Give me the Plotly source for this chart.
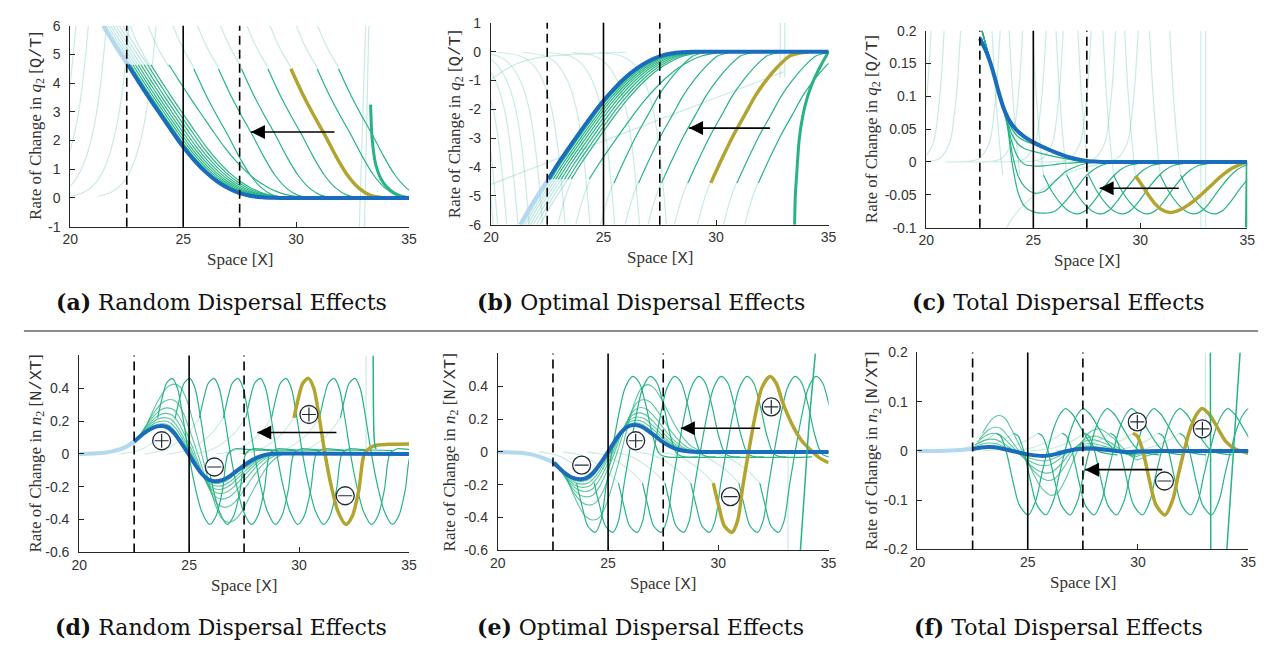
import plotly.graph_objects as go

# ------------------------------------------------------------------ data
SHIFTS = [23.57, 24.37, 25.47, 26.56, 27.58, 28.75, 30.93, 31.88]   # start of each green wave
OLIVE_SHIFT = 29.77
BLUE_SHAPE_LIMIT = 25.0          # waves starting before this follow the blue profile (a, b)
V_SOLID = [25.0]
V_DASH = [22.5, 27.5]

# (a) random dispersal, q2
a_blue_x = [22.55, 23.0, 23.5, 24.0, 24.5, 25.0, 25.5, 26.0, 26.5, 27.0, 27.5, 28.0, 28.5, 29.0, 29.5, 35.0]
a_blue_y = [4.64, 4.08, 3.48, 2.90, 2.33, 1.78, 1.30, 0.90, 0.58, 0.34, 0.17, 0.07, 0.025, 0.006, 0.0, 0.0]
a_lblue_x = [21.45, 22.0, 22.55]
a_lblue_y = [6.0, 5.3, 4.64]
a_cluster_dx = [0.12, 0.22, 0.33, 0.45, 0.58, 0.72, 0.87]
a_wave_s = [0, 0.5, 1.0, 1.5, 2.0, 2.5, 3.0, 3.5, 4.0, 4.5]
a_wave_y = [4.5, 3.65, 2.9, 2.2, 1.45, 0.8, 0.35, 0.1, 0.02, 0.0]
a_ext_s = [-0.95, -0.6, -0.3, 0.0]
a_ext_y = [6.05, 5.4, 4.95, 4.55]
a_rise_s = [-2.6, -2.0, -1.5, -1.0, -0.6, -0.3, 0.0]
a_rise_y = [0.05, 0.2, 0.5, 1.2, 2.3, 3.7, 6.0]
a_rise_x0 = [20.25, 20.8, 21.6, 22.6, 23.8]
a_edge_x = [33.30, 33.33, 33.37, 33.45, 33.55, 33.75, 34.0, 34.35, 34.7, 35.0]
a_edge_y = [3.25, 2.6, 2.05, 1.5, 1.1, 0.68, 0.4, 0.17, 0.05, 0.0]
a_vfaint_x = [[33.08, 32.80], [33.22, 33.03]]
a_vfaint_y = [6.0, -1.0]

# (b) optimal dispersal, q2
b_blue_x = [22.55, 23.0, 23.5, 24.0, 24.5, 25.0, 25.5, 26.0, 26.5, 27.0, 27.5, 28.0, 28.5, 29.0, 29.5, 35.0]
b_blue_y = [-4.42, -3.86, -3.29, -2.74, -2.20, -1.70, -1.26, -0.88, -0.57, -0.33, -0.16, -0.065, -0.022, -0.005, 0.0, 0.0]
b_lblue_x = [21.3, 21.9, 22.55]
b_lblue_y = [-6.0, -5.2, -4.42]
b_cluster_dx = [0.12, 0.22, 0.33, 0.45, 0.58, 0.72, 0.87]
b_wave_s = [0, 0.5, 1.0, 1.5, 2.0, 2.5, 3.0, 3.5, 3.95, 4.3]
b_wave_y = [-4.55, -3.7, -2.9, -2.2, -1.5, -0.95, -0.5, -0.15, -0.045, 0.0]
b_ext_s = [-0.6, -0.4, -0.2, 0.0]
b_ext_y = [-6.0, -5.4, -4.9, -4.5]
b_fall_s = [-3.0, -2.0, -1.5, -1.0, -0.6, -0.3, 0.0]
b_fall_y = [-0.02, -0.15, -0.4, -1.0, -2.0, -3.5, -6.0]
b_fall_x0 = [20.1, 20.3, 20.7, 21.2, 21.7, 22.3, 23.3, 24.4, 25.5, 26.6, 27.8]
b_long1_x = [20.0, 22.0, 24.0, 26.0, 28.0, 30.0, 32.0, 33.0]
b_long1_y = [-4.6, -4.0, -3.4, -2.8, -2.2, -1.6, -1.0, -0.7]
b_long2_x = [20.0, 20.5, 21.0, 21.5, 22.3, 23.2, 24.5, 26.0]
b_long2_y = [-0.98, -0.7, -0.47, -0.32, -0.19, -0.12, -0.06, -0.02]
b_edge_x = [33.49, 33.52, 33.57, 33.7, 33.86, 34.05, 34.3, 34.66, 35.0]
b_edge_y = [-6.0, -5.0, -4.4, -3.0, -2.2, -1.6, -1.05, -0.47, 0.0]
b_vfaint_x = [[32.85, 32.85], [33.05, 33.05]]
b_vfaint_y = [1.0, -0.9]

# (c) total dispersal, q2
c_blue_x = [22.5, 22.8, 23.0, 23.2, 23.4, 23.6, 23.8, 24.0, 24.3, 24.6, 25.0, 25.5, 26.0, 26.5, 27.0, 27.5, 28.0, 28.5, 35.0]
c_blue_y = [0.188, 0.168, 0.150, 0.128, 0.104, 0.083, 0.068, 0.057, 0.046, 0.038, 0.030, 0.022, 0.015, 0.009, 0.0045, 0.0015, 0.0005, 0.0, 0.0]
c_cl_x = [22.6, 23.0, 23.4, 23.8, 24.0, 24.3, 24.6, 25.0, 25.5, 26.0, 26.5, 27.0, 27.5, 28.0, 28.5, 29.0]
c_cl_y = [
    [0.2, 0.152, 0.106, 0.07, 0.058, 0.047, 0.04, 0.032, 0.024, 0.016, 0.01, 0.005, 0.002, 0.0005, 0.0, 0.0],
    [0.2, 0.152, 0.106, 0.066, 0.05, 0.038, 0.032, 0.027, 0.02, 0.014, 0.008, 0.004, 0.001, 0.0, 0.0, 0.0],
    [0.2, 0.152, 0.106, 0.062, 0.042, 0.027, 0.02, 0.016, 0.012, 0.008, 0.005, 0.002, 0.0, 0.0, 0.0, 0.0],
    [0.2, 0.152, 0.106, 0.058, 0.03, 0.006, -0.004, -0.006, -0.006, -0.004, -0.002, -0.001, 0.0, 0.0, 0.0, 0.0],
    [0.2, 0.152, 0.106, 0.055, 0.015, -0.022, -0.038, -0.047, -0.045, -0.03, -0.015, -0.007, -0.002, 0.0, 0.0, 0.0],
    [0.2, 0.152, 0.106, 0.052, 0.0, -0.048, -0.068, -0.076, -0.078, -0.075, -0.06, -0.04, -0.02, -0.008, -0.002, 0.0],
]
c_wave_s = [0, 0.4, 0.8, 1.2, 1.6, 2.0, 2.4, 2.8, 3.2, 3.6, 4.0, 4.5, 5.0]
c_wave_y = [-0.02, -0.045, -0.063, -0.075, -0.079, -0.073, -0.058, -0.04, -0.024, -0.012, -0.005, -0.002, 0.0]
c_olive_s = [0, 0.3, 0.6, 0.9, 1.2, 1.6, 2.0, 2.5, 3.0, 3.5, 4.0, 4.5, 5.23]
c_olive_y = [-0.021, -0.035, -0.05, -0.063, -0.072, -0.077, -0.074, -0.065, -0.052, -0.037, -0.022, -0.01, 0.0]
c_ext_s = [-0.5, -0.35, -0.2, -0.1, 0.0]
c_ext_y = [0.2, 0.11, 0.045, 0.01, -0.02]
c_rise_s = [-2.5, -1.0, -0.5, -0.3, -0.15, 0.0]
c_rise_y = [0.0, 0.005, 0.03, 0.07, 0.12, 0.2]
c_rise_x0 = [20.22, 20.83, 21.6, 23.45, 24.5, 25.6, 26.4, 27.7, 28.85, 29.9]
c_faint_x = [23.75, 24.2, 24.8, 25.5, 26.3, 27.2, 28.0]
c_faint_y = [-0.1, -0.078, -0.058, -0.04, -0.022, -0.01, -0.004]
c_edge_x = [35.0, 34.98, 34.96]
c_edge_y = [0.0, -0.06, -0.1]
c_vfaint_x = [[32.83, 32.83], [33.06, 33.06]]
c_vfaint_y = [0.2, -0.1]

# (d) random dispersal, n2
d_blue_x = [22.5, 22.8, 23.1, 23.4, 23.7, 24.0, 24.3, 24.6, 24.97, 25.3, 25.6, 25.9, 26.2, 26.5, 26.8, 27.1, 27.5, 27.9, 28.3, 28.7, 29.5, 35.0]
d_blue_y = [0.074, 0.11, 0.14, 0.162, 0.17, 0.163, 0.13, 0.075, 0.0, -0.07, -0.125, -0.158, -0.167, -0.16, -0.14, -0.11, -0.07, -0.035, -0.012, 0.0, 0.002, 0.0]
d_lblue_x = [20.0, 21.0, 21.5, 22.0, 22.5]
d_lblue_y = [0.0, 0.005, 0.015, 0.035, 0.074]
d_cluster_dx = [0.05, 0.1, 0.15, 0.22, 0.3, 0.42, 0.6]
d_cluster_k = [1.08, 1.18, 1.3, 1.45, 1.65, 1.95, 2.5]
d_wave_s = [0, 0.2, 0.4, 0.66, 0.9, 1.15, 1.41, 1.7, 2.0, 2.36, 2.65, 2.95, 3.2, 3.5, 3.8, 4.3, 5.5]
d_wave_y = [0.22, 0.34, 0.43, 0.46, 0.4, 0.22, 0.0, -0.2, -0.35, -0.43, -0.38, -0.22, 0.0, 0.03, 0.03, 0.025, 0.02]
d_olive_y = [0.22, 0.34, 0.43, 0.46, 0.4, 0.22, 0.0, -0.2, -0.35, -0.43, -0.38, -0.22, 0.0, 0.04, 0.054, 0.058, 0.06]
d_pre_s = [-2.5, -2.0, -1.5, -1.0, -0.5, 0.0]
d_pre_y = [0.0, 0.01, 0.03, 0.07, 0.13, 0.22]
d_edge_x = [33.37, 33.38, 33.40, 33.44, 33.5]
d_edge_y = [0.6, 0.35, 0.15, 0.06, 0.03]
d_vfaint_x = [[33.05, 33.05]]
d_vfaint_y = [0.6, 0.0]
d_marks_x = [23.75, 26.15, 30.45, 32.1]
d_marks_y = [0.08, -0.08, 0.24, -0.255]
d_marks_sign = ['+', '-', '+', '-']

# (e) optimal dispersal, n2
e_blue_x = [22.54, 22.8, 23.1, 23.4, 23.7, 24.0, 24.3, 24.6, 25.0, 25.3, 25.6, 25.9, 26.2, 26.5, 26.8, 27.1, 27.4, 27.8, 28.2, 28.7, 29.2, 35.0]
e_blue_y = [-0.066, -0.1, -0.135, -0.158, -0.166, -0.16, -0.13, -0.08, 0.0, 0.065, 0.12, 0.155, 0.164, 0.155, 0.13, 0.1, 0.068, 0.035, 0.013, 0.002, 0.0, 0.0]
e_lblue_x = [20.0, 21.0, 21.5, 22.0, 22.54]
e_lblue_y = [0.0, -0.005, -0.015, -0.035, -0.066]
e_cluster_dx = [0.05, 0.1, 0.15, 0.22, 0.3, 0.42, 0.6]
e_cluster_k = [1.08, 1.18, 1.3, 1.45, 1.65, 1.95, 2.5]
e_wave_s = [0, 0.25, 0.5, 0.85, 1.1, 1.35, 1.6, 1.9, 2.2, 2.55, 2.85, 3.15, 3.45, 3.75, 4.1, 5.5]
e_wave_y = [-0.19, -0.33, -0.45, -0.49, -0.42, -0.2, 0.0, 0.22, 0.39, 0.46, 0.42, 0.28, 0.1, -0.01, -0.03, -0.03]
e_olive_s = [0, 0.25, 0.5, 0.85, 1.1, 1.35, 1.6, 1.9, 2.2, 2.57, 2.85, 3.15, 3.6, 4.0, 4.35, 4.8, 5.23]
e_olive_y = [-0.19, -0.33, -0.45, -0.49, -0.42, -0.2, 0.0, 0.22, 0.39, 0.46, 0.42, 0.3, 0.16, 0.07, 0.02, -0.035, -0.066]
e_pre_s = [-2.5, -2.0, -1.5, -1.0, -0.5, 0.0]
e_pre_y = [0.0, -0.01, -0.03, -0.07, -0.12, -0.19]
e_edge_x = [33.72, 33.9, 34.1, 34.4]
e_edge_y = [-0.6, -0.25, 0.15, 0.6]
e_vfaint_x = [[33.16, 33.16]]
e_vfaint_y = [0.0, -0.6]
e_marks_x = [23.8, 26.25, 30.55, 32.4]
e_marks_y = [-0.08, 0.068, -0.272, 0.274]
e_marks_sign = ['-', '+', '-', '+']

# (f) total dispersal, n2
f_blue_x = [22.5, 22.9, 23.2, 23.5, 23.8, 24.2, 24.6, 25.0, 25.3, 25.6, 25.9, 26.3, 26.8, 27.3, 27.8, 28.4, 29.0, 29.5, 30.0, 31.0, 35.0]
f_blue_y = [0.004, 0.007, 0.008, 0.0075, 0.005, 0.001, -0.003, -0.007, -0.009, -0.01, -0.0095, -0.006, 0.0, 0.004, 0.005, 0.003, 0.0, -0.002, -0.001, 0.0, 0.0]
f_lblue_x = [20.0, 21.0, 22.0, 22.5]
f_lblue_y = [0.0, 0.0, 0.002, 0.004]
f_cluster_dx = [0.05, 0.1, 0.2, 0.3, 0.45]
f_cluster_k = [2.0, 3.0, 4.5, 6.0, 9.0]
f_wave_s = [0, 0.2, 0.45, 0.75, 1.05, 1.45, 1.8, 2.05, 2.32, 2.6, 2.9, 3.14, 3.45, 3.8, 4.2, 4.6, 5.5]
f_wave_y = [0.036, 0.03, 0.0, -0.06, -0.11, -0.13, -0.1, -0.05, 0.0, 0.045, 0.075, 0.086, 0.075, 0.05, 0.02, 0.0, -0.008]
f_olive_s = [0, 0.2, 0.45, 0.75, 1.05, 1.45, 1.8, 2.05, 2.32, 2.6, 2.9, 3.14, 3.45, 3.8, 4.2, 4.6, 5.23]
f_olive_y = [0.036, 0.03, 0.0, -0.06, -0.11, -0.13, -0.1, -0.05, 0.0, 0.045, 0.075, 0.086, 0.075, 0.05, 0.02, 0.005, -0.005]
f_pre_s = [-2.5, -1.5, -1.0, -0.5, 0.0]
f_pre_y = [0.0, 0.005, 0.012, 0.022, 0.036]
f_edge_x = [[33.28, 33.30], [34.03, 34.63]]
f_edge_y = [[0.2, -0.2], [-0.2, 0.2]]
f_vfaint_x = [[33.06, 33.06]]
f_vfaint_y = [0.2, -0.03]
f_marks_x = [29.97, 32.92, 31.2]
f_marks_y = [0.059, 0.045, -0.061]
f_marks_sign = ['+', '+', '-']

# arrows: (tail x, head x, y)
arrows = {
    1: (31.7, 28.0, 2.3),
    2: (32.4, 28.8, -2.65),
    3: (31.8, 28.1, -0.04),
    4: (31.7, 28.1, 0.13),
    5: (31.9, 28.3, 0.144),
    6: (31.1, 27.6, -0.038),
}

captions = ["Random Dispersal Effects", "Optimal Dispersal Effects", "Total Dispersal Effects"] * 2
caption_tags = ["(a)", "(b)", "(c)", "(d)", "(e)", "(f)"]

# ------------------------------------------------------------------ style
W, H = 1268, 646
BLUE = "#1a6cbc"
LBLUE = "#b3d8f0"
GREEN = "#27b482"
FAINT = "rgba(39,180,130,0.25)"
OLIVE = "#b2a431"
CLUSTER_EXT = "rgba(140,205,205,0.55)"
TICKFONT = dict(family="Liberation Sans, Arial", size=14, color="#333333")
SERIF = "Liberation Serif, Times New Roman, serif"
MONO = "Liberation Mono"
TITLE_SIZE = 17
CAP_SIZE = 22

# plot boxes in pixels: left, right, top, bottom
boxes = {
    1: (55, 398, 10, 216),
    2: (481, 823, 7, 214),
    3: (922, 1247, 15, 217),
    4: (64, 398, 348, 550),
    5: (488, 823, 346, 548),
    6: (913, 1248, 345, 547),
}
ytitle_px = {1: 21, 2: 445, 3: 868, 4: 21, 5: 440, 6: 868}
yranges = {1: [-1, 6], 2: [-6, 1], 3: [-0.1, 0.2], 4: [-0.6, 0.6], 5: [-0.6, 0.6], 6: [-0.2, 0.2]}
yticks = {
    1: ([-1, 0, 1, 2, 3, 4, 5, 6], ["-1", "0", "1", "2", "3", "4", "5", "6"]),
    2: ([-6, -5, -4, -3, -2, -1, 0, 1], ["-6", "-5", "-4", "-3", "-2", "-1", "0", "1"]),
    3: ([-0.1, -0.05, 0, 0.05, 0.1, 0.15, 0.2], ["-0.1", "-0.05", "0", "0.05", "0.1", "0.15", "0.2"]),
    4: ([-0.6, -0.4, -0.2, 0, 0.2, 0.4], ["-0.6", "-0.4", "-0.2", "0", "0.2", "0.4"]),
    5: ([-0.6, -0.4, -0.2, 0, 0.2, 0.4], ["-0.6", "-0.4", "-0.2", "0", "0.2", "0.4"]),
    6: ([-0.2, -0.1, 0, 0.1, 0.2], ["-0.2", "-0.1", "0", "0.1", "0.2"]),
}

fig = go.Figure()


def ax(i):
    return ("x" if i == 1 else f"x{i}"), ("y" if i == 1 else f"y{i}")


def line(i, x, y, color, width, shape="spline", dash=None):
    xa, ya = ax(i)
    fig.add_trace(go.Scatter(
        x=x, y=y, mode="lines", xaxis=xa, yaxis=ya,
        line=dict(color=color, width=width, shape=shape, smoothing=0.8, dash=dash),
        hoverinfo="skip", showlegend=False))


def shift(s_list, x0):
    return [x0 + s for s in s_list]


def rel(xs):
    return [x - xs[0] for x in xs]


# ---------- (a)
for x0 in a_rise_x0:
    line(1, shift(a_rise_s, x0), a_rise_y, FAINT, 1.2)
for x0 in SHIFTS + [OLIVE_SHIFT]:
    line(1, shift(a_ext_s, x0), a_ext_y, FAINT, 1.2)
for xs in a_vfaint_x:
    line(1, xs, a_vfaint_y, FAINT, 1.2, "linear")
for dx in a_cluster_dx:
    line(1, [x + dx for x in a_lblue_x], a_lblue_y, CLUSTER_EXT, 1.2)
line(1, a_lblue_x, a_lblue_y, LBLUE, 4)
for dx in a_cluster_dx:
    line(1, [x + dx for x in a_blue_x], a_blue_y, GREEN, 1.2)
for x0 in SHIFTS:
    if x0 < BLUE_SHAPE_LIMIT:
        line(1, shift(rel(a_blue_x), x0), a_blue_y, GREEN, 1.2)
    else:
        line(1, shift(a_wave_s, x0), a_wave_y, GREEN, 1.2)
line(1, shift(a_wave_s, OLIVE_SHIFT), a_wave_y, OLIVE, 3.5)
line(1, a_edge_x, a_edge_y, GREEN, 3)
line(1, a_blue_x, a_blue_y, BLUE, 4)

# ---------- (b)
for x0 in b_fall_x0:
    line(2, shift(b_fall_s, x0), b_fall_y, FAINT, 1.2)
for x0 in SHIFTS + [OLIVE_SHIFT]:
    line(2, shift(b_ext_s, x0), b_ext_y, FAINT, 1.2)
line(2, b_long1_x, b_long1_y, FAINT, 1.2)
line(2, b_long2_x, b_long2_y, FAINT, 1.2)
for xs in b_vfaint_x:
    line(2, xs, b_vfaint_y, FAINT, 1.2, "linear")
for dx in b_cluster_dx:
    line(2, [x + dx for x in b_lblue_x], b_lblue_y, CLUSTER_EXT, 1.2)
line(2, b_lblue_x, b_lblue_y, LBLUE, 4)
for dx in b_cluster_dx:
    line(2, [x + dx for x in b_blue_x], b_blue_y, GREEN, 1.2)
for x0 in SHIFTS:
    if x0 < BLUE_SHAPE_LIMIT:
        line(2, shift(rel(b_blue_x), x0), b_blue_y, GREEN, 1.2)
    else:
        line(2, shift(b_wave_s, x0), b_wave_y, GREEN, 1.2)
line(2, shift(b_wave_s, OLIVE_SHIFT), b_wave_y, OLIVE, 3.5)
line(2, b_edge_x, b_edge_y, GREEN, 3)
line(2, b_blue_x, b_blue_y, BLUE, 4)

# ---------- (c)
for x0 in c_rise_x0:
    line(3, shift(c_rise_s, x0), c_rise_y, FAINT, 1.2)
for x0 in SHIFTS + [OLIVE_SHIFT]:
    line(3, shift(c_ext_s, x0), c_ext_y, FAINT, 1.2)
line(3, c_faint_x, c_faint_y, FAINT, 1.2)
for xs in c_vfaint_x:
    line(3, xs, c_vfaint_y, FAINT, 1.2, "linear")
for ys in c_cl_y:
    line(3, c_cl_x, ys, GREEN, 1.2)
for x0 in SHIFTS[2:]:
    line(3, shift(c_wave_s, x0), c_wave_y, GREEN, 1.2)
line(3, shift(c_olive_s, OLIVE_SHIFT), c_olive_y, OLIVE, 3.5)
line(3, c_edge_x, c_edge_y, GREEN, 3, "linear")
line(3, c_blue_x, c_blue_y, BLUE, 4)


# ---------- (d), (e), (f)
def wave_panel(i, blue_x, blue_y, lblue_x, lblue_y, cl_dx, cl_k, wave_s, wave_y,
               olive_s, olive_y, pre_s, pre_y, vfx, vfy):
    for x0 in SHIFTS + [OLIVE_SHIFT]:
        line(i, shift(pre_s, x0), pre_y, FAINT, 1.2)
    for xs in vfx:
        line(i, xs, vfy, FAINT, 1.2, "linear")
    line(i, lblue_x, lblue_y, LBLUE, 4)
    for dx, k in zip(cl_dx, cl_k):
        line(i, [x + dx for x in blue_x], [y * k for y in blue_y], "rgba(39,180,130,0.75)", 1.1)
    for x0 in SHIFTS:
        line(i, shift(wave_s, x0), wave_y, GREEN, 1.2)
    line(i, shift(olive_s, OLIVE_SHIFT), olive_y, OLIVE, 3.5)
    line(i, blue_x, blue_y, BLUE, 4)


wave_panel(4, d_blue_x, d_blue_y, d_lblue_x, d_lblue_y, d_cluster_dx, d_cluster_k,
           d_wave_s, d_wave_y, d_wave_s, d_olive_y, d_pre_s, d_pre_y, d_vfaint_x, d_vfaint_y)
line(4, d_edge_x, d_edge_y, GREEN, 1.5)
wave_panel(5, e_blue_x, e_blue_y, e_lblue_x, e_lblue_y, e_cluster_dx, e_cluster_k,
           e_wave_s, e_wave_y, e_olive_s, e_olive_y, e_pre_s, e_pre_y, e_vfaint_x, e_vfaint_y)
line(5, e_edge_x, e_edge_y, GREEN, 1.5)
wave_panel(6, f_blue_x, f_blue_y, f_lblue_x, f_lblue_y, f_cluster_dx, f_cluster_k,
           f_wave_s, f_wave_y, f_olive_s, f_olive_y, f_pre_s, f_pre_y, f_vfaint_x, f_vfaint_y)
for xs, ys in zip(f_edge_x, f_edge_y):
    line(6, xs, ys, GREEN, 1.5, "linear")

# sign markers
for i, mx, my, ms in [(4, d_marks_x, d_marks_y, d_marks_sign),
                      (5, e_marks_x, e_marks_y, e_marks_sign),
                      (6, f_marks_x, f_marks_y, f_marks_sign)]:
    xa, ya = ax(i)
    fig.add_trace(go.Scatter(x=mx, y=my, mode="markers", xaxis=xa, yaxis=ya,
                             marker=dict(symbol="circle", size=18, color="white",
                                         line=dict(color="#1e2a38", width=1.3)),
                             hoverinfo="skip", showlegend=False))
    syms = ["cross-thin-open" if s == "+" else "line-ew-open" for s in ms]
    fig.add_trace(go.Scatter(x=mx, y=my, mode="markers", xaxis=xa, yaxis=ya,
                             marker=dict(symbol=syms, size=10, color="#1e2a38",
                                         line=dict(color="#1e2a38", width=1.2)),
                             hoverinfo="skip", showlegend=False))

# arrows drawn as a shaft plus an arrow-head marker
for i, (tx, hx, ay_) in arrows.items():
    xa, ya = ax(i)
    fig.add_trace(go.Scatter(x=[tx, hx], y=[ay_, ay_], mode="lines", xaxis=xa, yaxis=ya,
                             line=dict(color="black", width=1.6),
                             hoverinfo="skip", showlegend=False))
    fig.add_trace(go.Scatter(x=[hx], y=[ay_], mode="markers", xaxis=xa, yaxis=ya,
                             marker=dict(symbol="arrow-left", size=14, color="black",
                                         line=dict(width=0)),
                             hoverinfo="skip", showlegend=False))

# ------------------------------------------------------------------ layout
layout = dict(width=W, height=H, margin=dict(l=0, r=0, t=0, b=0), autosize=False,
              paper_bgcolor="white", plot_bgcolor="white", showlegend=False)
shapes = []
annotations = []
mono_style = f"font-family:{MONO};font-size:{TITLE_SIZE}px"
ital_style = f"font-style:italic;font-size:{TITLE_SIZE}px"
bold_style = f"font-weight:bold;font-size:{CAP_SIZE}px"
for i, (l, r, t, b) in boxes.items():
    xa, ya = ax(i)
    xkey = "xaxis" if i == 1 else f"xaxis{i}"
    ykey = "yaxis" if i == 1 else f"yaxis{i}"
    layout[xkey] = dict(domain=[l / W, r / W], range=[20, 35], anchor=ya,
                        tickvals=[20, 25, 30, 35], ticktext=["20", "25", "30", "35"],
                        ticks="inside", ticklen=5, tickcolor="#262626",
                        showline=True, linecolor="#262626", linewidth=1,
                        showgrid=False, zeroline=False, tickfont=TICKFONT)
    tv, tt = yticks[i]
    layout[ykey] = dict(domain=[1 - b / H, 1 - t / H], range=yranges[i], anchor=xa,
                        tickvals=tv, ticktext=tt, ticks="inside", ticklen=5,
                        tickcolor="#262626", showline=True, linecolor="#262626",
                        linewidth=1, showgrid=False, zeroline=False, tickfont=TICKFONT,
                        ticklabelstandoff=6)
    for v in V_DASH:
        shapes.append(dict(type="line", xref=xa, yref=f"{ya} domain", x0=v, x1=v, y0=0, y1=1,
                           line=dict(color="black", width=1.6, dash="9px,5px")))
    for v in V_SOLID:
        shapes.append(dict(type="line", xref=xa, yref=f"{ya} domain", x0=v, x1=v, y0=0, y1=1,
                           line=dict(color="black", width=1.6)))
    # axis titles
    var, unit = ("q", "Q/T") if i <= 3 else ("n", "N/XT")
    ytitle = (f"Rate of Change in <span style=\"{ital_style}\">{var}</span><sub>2</sub> "
              f"[<span style=\"{mono_style}\">{unit}</span>]")
    annotations.append(dict(text=ytitle, x=ytitle_px[i] / W, y=1 - ((t + b) / 2) / H,
                            xref="paper", yref="paper", showarrow=False, textangle=-90,
                            xanchor="center", yanchor="middle",
                            font=dict(family=SERIF, size=TITLE_SIZE, color="#333333")))
    annotations.append(dict(text=f"Space [<span style=\"{mono_style}\">X</span>]",
                            x=((l + r) / 2) / W, y=1 - (b + 34) / H,
                            xref="paper", yref="paper", showarrow=False,
                            xanchor="center", yanchor="middle",
                            font=dict(family=SERIF, size=TITLE_SIZE, color="#333333")))

cap_cx = [208, 633, 1056, 208, 632, 1056]
cap_cy = [293, 293, 293, 627, 627, 627]
for k in range(6):
    annotations.append(dict(text=f"<span style=\"{bold_style}\">{caption_tags[k]}</span> {captions[k]}",
                            x=cap_cx[k] / W, y=1 - cap_cy[k] / H, xref="paper", yref="paper",
                            showarrow=False, xanchor="center", yanchor="middle",
                            font=dict(family="DejaVu Serif", size=CAP_SIZE, color="#111111")))

shapes.append(dict(type="line", xref="paper", yref="paper", x0=8 / W, x1=1258 / W,
                   y0=1 - 323 / H, y1=1 - 323 / H, line=dict(color="#8c8c8c", width=2)))

layout["shapes"] = shapes
layout["annotations"] = annotations
fig.update_layout(**layout)
fig.write_html("out.html")
